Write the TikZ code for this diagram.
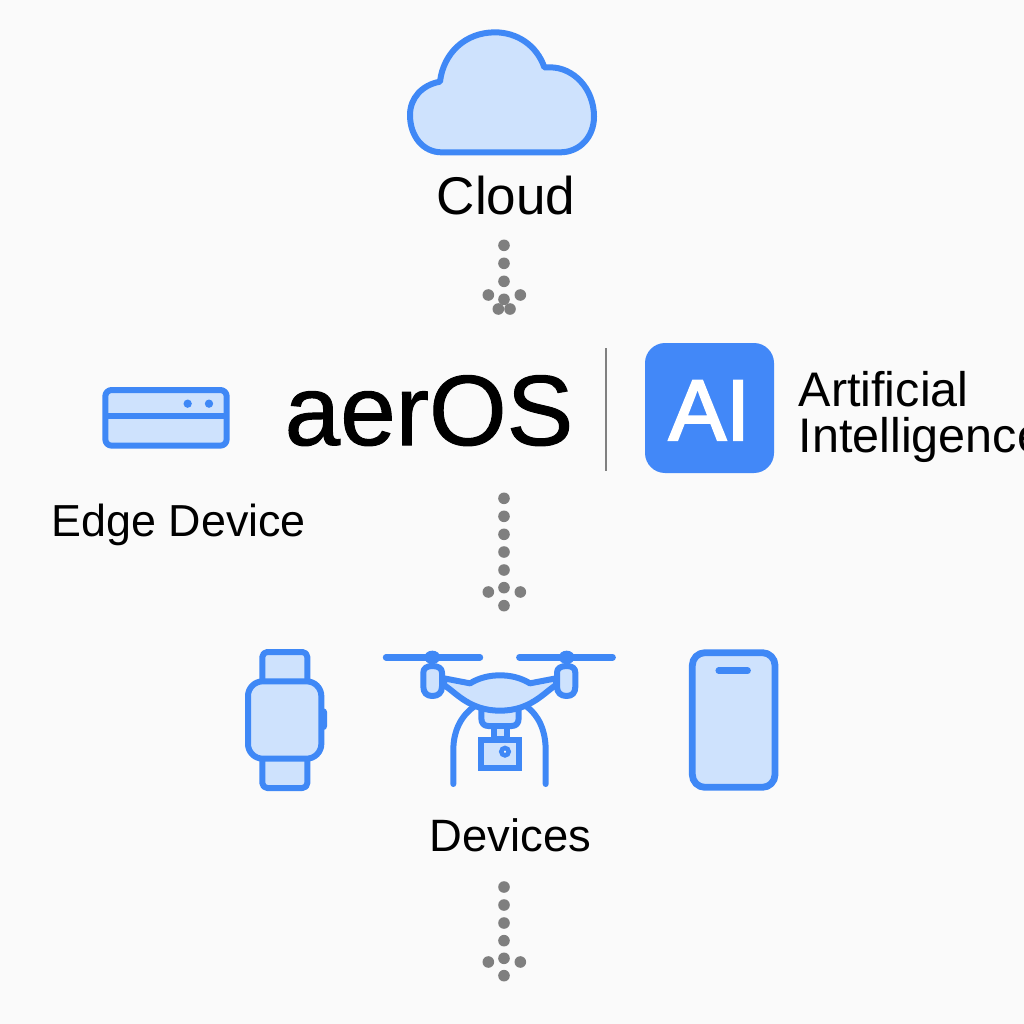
\documentclass[tikz,border=0pt]{standalone}
\usepackage{fontspec}
\setmainfont{Liberation Sans}
\newfontfamily\aifont[FakeBold=2.5]{Liberation Sans}
\newfontfamily\logofont[FakeBold=1]{Liberation Sans}
\definecolor{bgc}{HTML}{FAFAFA}
\definecolor{blu}{HTML}{3F88F6}
\definecolor{aibg}{HTML}{4288F8}
\definecolor{pale}{HTML}{CEE2FD}
\definecolor{dotc}{HTML}{7F7F7F}
\definecolor{rulec}{HTML}{808080}
\tikzset{
  icon/.style={draw=blu,fill=pale,line width=6*0.2845pt,line join=round,line cap=round},
  stroke/.style={draw=blu,line width=6*0.2845pt,line cap=round,line join=round},
  dotn/.style={circle,fill=dotc,inner sep=0pt,minimum size=11.6*0.2845pt},
  lbl/.style={anchor=base west,inner sep=0pt,text=black},
}
\begin{document}
\begin{tikzpicture}[x=0.01cm,y=-0.01cm]
\useasboundingbox (0,0) rectangle (1024,1024);
\clip (0,0) rectangle (1024,1024);
\fill[bgc] (0,0) rectangle (1024,1024);

% cloud
\begin{scope}[shift={(400,20)},scale=1/3]
\draw[icon] (120,185) .. controls (65,195) and (30,235) .. (30,285)
  .. controls (30,350) and (70,397) .. (125,397) -- (480,397)
  .. controls (540,397) and (582,350) .. (582,290)
  .. controls (582,205) and (520,142) .. (450,142) -- (433,142)
  .. controls (410,75) and (350,37) .. (285,37)
  .. controls (195,37) and (130,100) .. (120,185) -- cycle;
\end{scope}
\node[lbl] (cloud) at (436,214) {\fontsize{15.1}{15.1}\selectfont Cloud};

% edge device
\begin{scope}[shift={(90,375)},scale=1/3]
\draw[icon,rounded corners=1.8pt] (46,45) rectangle (410,212);
\draw[stroke,line cap=butt] (46,124) -- (410,124);
\fill[blu] (293,86) circle (12.5);
\fill[blu] (357,86) circle (12.5);
\end{scope}
\node[lbl] (edge) at (51,536) {\fontsize{12.75}{12.75}\selectfont Edge Device};

% aerOS
\node[lbl] (aeros) at (284,445) {\fontsize{28.4}{28.4}\logofont aerOS};
\coordinate (ruleA) at (606,348);
\coordinate (ruleB) at (606,471);
\draw[rulec,line width=0.45pt] (ruleA) -- (ruleB);

% AI
\fill[aibg,rounded corners=5.7pt] (645,343) rectangle (774,473);
\node[lbl,text=white] (ai) at (668,440) {\fontsize{24.5}{24.5}\aifont AI};
\node[lbl] (art) at (798,406) {\fontsize{13.8}{13.8}\selectfont Artificial};
\node[lbl] (int) at (798,452) {\fontsize{13.8}{13.8}\selectfont Intelligence};

% watch
\begin{scope}[shift={(230,640)},scale=1/3]
\fill[blu,rounded corners=1pt] (272,205) rectangle (291,270);
\draw[icon,rounded corners=1.4pt] (97,125) -- (97,36) -- (232,36) -- (232,125);
\draw[icon,rounded corners=1.4pt] (97,355) -- (97,444) -- (232,444) -- (232,355);
\draw[icon,rounded corners=4.2pt] (54,124) rectangle (274,356);
\end{scope}

% drone
\begin{scope}[shift={(370,630)},scale=1/3]
\draw[stroke] (250,462) -- (250,360) .. controls (250,300) and (275,255) .. (315,228);
\draw[stroke] (527,462) -- (527,360) .. controls (527,300) and (505,255) .. (468,228);
\draw[stroke,line width=6.4*0.2845pt] (48,82) -- (330,82);
\draw[stroke,line width=6.4*0.2845pt] (448,82) -- (728,82);
\fill[blu] (187,82) ellipse (24 and 20);
\fill[blu] (590,82) ellipse (24 and 20);
\draw[stroke] (187,82) -- (187,110);
\draw[stroke] (590,82) -- (590,110);
\draw[icon] (334,240) -- (334,265) .. controls (334,280) and (342,288) .. (355,288) -- (425,288) .. controls (438,288) and (446,280) .. (446,265) -- (446,240);
\draw[icon] (372,288) rectangle (412,326);
\draw[icon] (222,145) -- (300,160) .. controls (330,142) and (360,136) .. (390,136)
  .. controls (420,136) and (450,142) .. (480,160) -- (558,145) -- (558,165)
  .. controls (520,190) and (480,242) .. (390,242)
  .. controls (300,242) and (260,190) .. (222,165) -- cycle;
\draw[icon] (160,128) .. controls (160,115) and (170,108) .. (187,108) .. controls (205,108) and (216,115) .. (216,128)
  -- (216,170) .. controls (216,188) and (205,198) .. (187,198) .. controls (170,198) and (160,188) .. (160,170) -- cycle;
\draw[icon] (561,128) .. controls (561,115) and (572,108) .. (590,108) .. controls (607,108) and (616,115) .. (616,128)
  -- (616,170) .. controls (616,188) and (607,198) .. (590,198) .. controls (572,198) and (561,188) .. (561,170) -- cycle;
\draw[icon,line join=miter] (334,329) rectangle (447,414);
\draw[draw=blu,line width=1.3pt,fill=bgc] (405,365) circle (11);
\end{scope}

% phone
\begin{scope}[shift={(680,640)},scale=1/3]
\draw[icon,line width=6.8*0.2845pt,rounded corners=3.6pt] (37,38) rectangle (285,442);
\draw[stroke,line width=6.4*0.2845pt] (116,92) -- (203,92);
\end{scope}
\node[lbl] (dev) at (429,851) {\fontsize{12.9}{12.9}\selectfont Devices};

% dotted links
\begin{scope}[shift={(460,230)},scale=1/3]
\foreach \i/\x/\y in {1/132/46,2/132/100,3/132/154,4/85/195,5/181/195,6/132/208,7/115/237,8/150/237}
  \node[dotn] (a\i) at (\x,\y) {};
\end{scope}
\begin{scope}[shift={(460,485)},scale=1/3]
\foreach \i/\x/\y in {1/132/40,2/132/94,3/132/148,4/132/201,5/132/255,6/132/308,7/85/321,8/181/321,9/132/362}
  \node[dotn] (b\i) at (\x,\y) {};
\end{scope}
\begin{scope}[shift={(460,875)},scale=1/3]
\foreach \i/\x/\y in {1/132/36,2/132/90,3/132/144,4/132/197,5/132/250,6/85/261,7/181/261,8/132/302}
  \node[dotn] (c\i) at (\x,\y) {};
\end{scope}
\end{tikzpicture}
\end{document}
